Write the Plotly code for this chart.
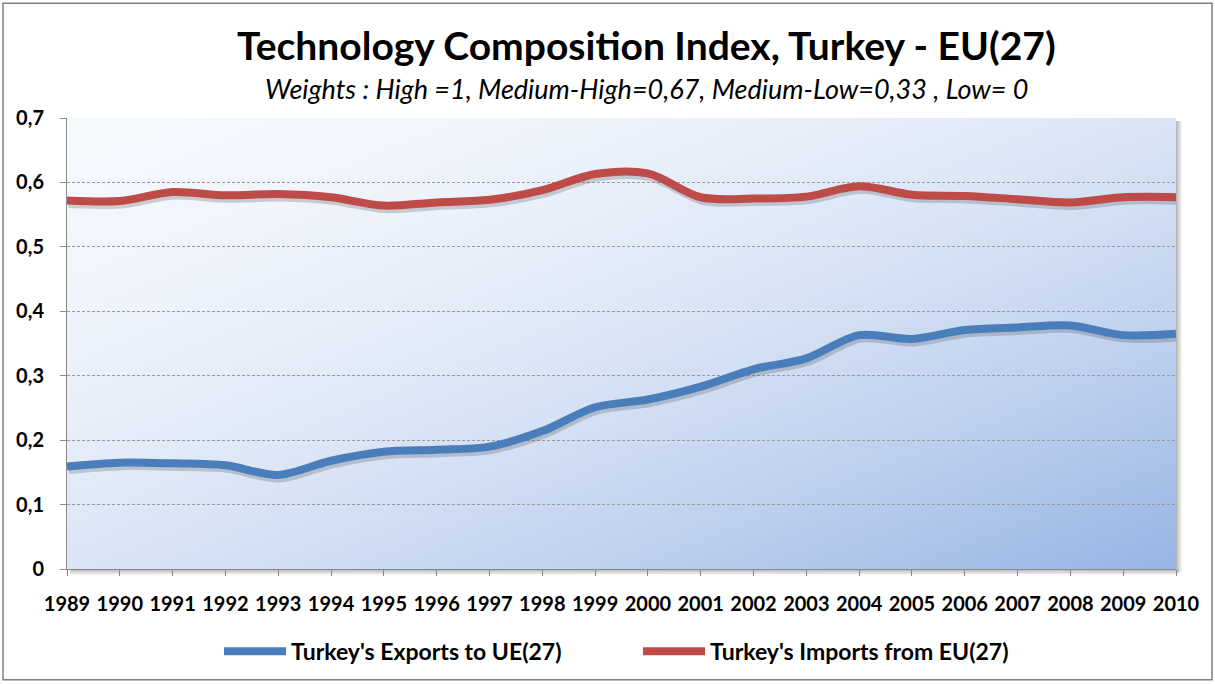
import base64
import struct
import zlib

import numpy as np
import plotly.graph_objects as go

# ---------------- data ----------------
year_labels = ["1989", "1990", "1991", "1992", "1993", "1994", "1995", "1996",
               "1997", "1998", "1999", "2000", "2001", "2002", "2003", "2004",
               "2005", "2006", "2007", "2008", "2009", "2010"]
exports_ue27 = [0.159, 0.165, 0.164, 0.161, 0.146, 0.168, 0.182, 0.185, 0.190,
                0.214, 0.251, 0.263, 0.283, 0.310, 0.327, 0.363, 0.357, 0.371,
                0.375, 0.378, 0.363, 0.365]
imports_eu27 = [0.572, 0.571, 0.585, 0.580, 0.582, 0.577, 0.564, 0.569, 0.573,
                0.588, 0.613, 0.614, 0.577, 0.575, 0.578, 0.594, 0.581, 0.579,
                0.574, 0.569, 0.577, 0.577]
y_tick_values = [0, 0.1, 0.2, 0.3, 0.4, 0.5, 0.6, 0.7]
y_tick_labels = ["0", "0,1", "0,2", "0,3", "0,4", "0,5", "0,6", "0,7"]

title_text = "Technology Composition Index, Turkey - EU(27)"
subtitle_text = "Weights : High =1, Medium-High=0,67, Medium-Low=0,33 , Low= 0"
name_exports = "Turkey's Exports to UE(27)"
name_imports = "Turkey's Imports from EU(27)"

years = [int(y) for y in year_labels]

# ---------------- layout geometry ----------------
W, H = 1215, 684
ML, MR, MT, MB = 67, 39, 118, 114
PW, PH = W - ML - MR, H - MT - MB
FONT = "Lato, 'Open Sans', sans-serif"

BLUE = "#4a7ebb"
RED = "#be4b48"


# ---------------- gradient background image (plot area + drop shadow) ----------------
def make_bg_png(pw, ph, sh=6):
    w, h = pw + sh, ph + sh
    xs = np.arange(w)[None, :] / (pw - 1)
    ys = np.arange(h)[:, None] / (ph - 1)
    t = np.clip((xs + ys) / 2.0, 0, 1) ** 1.8
    c0 = np.array([245, 248, 253], float)
    c1 = np.array([150, 180, 228], float)
    rgb = c0[None, None, :] + (c1 - c0)[None, None, :] * t[:, :, None]
    img = np.zeros((h, w, 4), float)
    img[:, :, :3] = rgb
    img[:ph, :pw, 3] = 255
    X = np.arange(w)[None, :].repeat(h, 0)
    Y = np.arange(h)[:, None].repeat(w, 1)
    right = (X >= pw) & (Y >= 3) & (Y < ph + 3)
    bottom = (Y >= ph) & (X >= 3) & (X < pw + 3)
    a_r = np.where(right, 110 * (1 - (X - pw) / sh), 0)
    a_b = np.where(bottom, 110 * (1 - (Y - ph) / sh), 0)
    a = np.maximum(a_r, a_b)
    sh_mask = a > 0
    img[sh_mask, 0] = 90
    img[sh_mask, 1] = 90
    img[sh_mask, 2] = 90
    img[sh_mask, 3] = a[sh_mask]
    arr = np.clip(np.round(img), 0, 255).astype(np.int16)
    sub = arr.copy()
    sub[:, 1:, :] = (arr[:, 1:, :] - arr[:, :-1, :]) % 256
    sub = sub.astype(np.uint8).reshape(h, w * 4)
    raw = np.hstack([np.ones((h, 1), np.uint8), sub]).tobytes()

    def chunk(tag, data):
        c = struct.pack(">I", len(data)) + tag + data
        return c + struct.pack(">I", zlib.crc32(tag + data) & 0xFFFFFFFF)

    png = b"\x89PNG\r\n\x1a\n"
    png += chunk(b"IHDR", struct.pack(">IIBBBBB", w, h, 8, 6, 0, 0, 0))
    png += chunk(b"IDAT", zlib.compress(raw, 9))
    png += chunk(b"IEND", b"")
    return "data:image/png;base64," + base64.b64encode(png).decode(), w, h


bg_src, bg_w, bg_h = make_bg_png(PW, PH)

# ---------------- figure ----------------
fig = go.Figure()

# invisible anchor trace so the base (tick/grid) axes are drawn
fig.add_trace(go.Scatter(
    x=years, y=exports_ue27, mode="lines", line=dict(width=0, color="rgba(0,0,0,0)"),
    showlegend=False, hoverinfo="skip"))

# line shadows (on an offset invisible axis pair)
for vals in (exports_ue27, imports_eu27):
    fig.add_trace(go.Scatter(
        x=years, y=vals, mode="lines", xaxis="x2", yaxis="y2",
        line=dict(color="rgba(40,40,40,0.2)", width=9, shape="spline", smoothing=0.9),
        showlegend=False, hoverinfo="skip"))

fig.add_trace(go.Scatter(
    x=years, y=exports_ue27, mode="lines", name=name_exports, xaxis="x3", yaxis="y3",
    line=dict(color=BLUE, width=8, shape="spline", smoothing=0.9)))
fig.add_trace(go.Scatter(
    x=years, y=imports_eu27, mode="lines", name=name_imports, xaxis="x3", yaxis="y3",
    line=dict(color=RED, width=8, shape="spline", smoothing=0.9)))

xr = [years[0], years[-1]]
yr = [0, 0.7]
dx = 1.5 * (xr[1] - xr[0]) / PW
dy = 3.0 * (yr[1] - yr[0]) / PH

fig.update_layout(
    width=W, height=H,
    margin=dict(l=ML, r=MR, t=MT, b=MB),
    paper_bgcolor="white",
    plot_bgcolor="rgba(0,0,0,0)",
    font=dict(family=FONT, color="black"),
    xaxis=dict(
        range=xr, tickmode="array", tickvals=years, ticktext=year_labels,
        tickangle=0, showgrid=False, zeroline=False,
        showline=True, linecolor="#8a8a8a", linewidth=1,
        ticks="outside", ticklen=6, tickcolor="#8a8a8a",
        ticklabelstandoff=11,
        tickfont=dict(family=FONT, size=20, color="black", weight="bold"),
    ),
    yaxis=dict(
        range=yr, tickmode="array", tickvals=y_tick_values, ticktext=y_tick_labels,
        showgrid=True, gridcolor="#9a9a9a", griddash="3px,2px", gridwidth=1,
        zeroline=False, showline=True, linecolor="#8a8a8a", linewidth=1,
        ticks="outside", ticklen=6, tickcolor="#8a8a8a",
        ticklabelstandoff=12,
        tickfont=dict(family=FONT, size=20, color="black", weight="bold"),
    ),
    xaxis2=dict(range=[xr[0] - dx, xr[1] - dx], overlaying="x", visible=False),
    yaxis2=dict(range=[yr[0] + dy, yr[1] + dy], overlaying="y", visible=False),
    xaxis3=dict(range=xr, overlaying="x", visible=False),
    yaxis3=dict(range=yr, overlaying="y", visible=False),
    legend=dict(
        orientation="h", x=(638 - ML) / PW, xanchor="center", y=-0.18, yanchor="middle",
        font=dict(family=FONT, size=23, color="black", weight="bold"),
        bgcolor="rgba(0,0,0,0)", itemwidth=62,
        entrywidth=342, entrywidthmode="pixels",
    ),
    showlegend=True,
    images=[dict(
        source=bg_src, xref="paper", yref="paper",
        x=0, y=1, xanchor="left", yanchor="top",
        sizex=bg_w / PW, sizey=bg_h / PH, sizing="stretch", layer="below")],
    annotations=[
        dict(text="<b>" + title_text + "</b>", xref="paper", yref="paper",
             x=(646 - ML) / PW, y=1 + (MT - 45) / PH, xanchor="center", yanchor="middle",
             showarrow=False, font=dict(family=FONT, size=39, color="black")),
        dict(text="<i>" + subtitle_text + "</i>", xref="paper", yref="paper",
             x=(646 - ML) / PW, y=1 + (MT - 88) / PH, xanchor="center", yanchor="middle",
             showarrow=False, font=dict(family=FONT, size=27, color="black")),
    ],
    shapes=[dict(type="rect", xref="paper", yref="paper",
                 x0=(3 - ML) / PW, x1=(W - 3 - ML) / PW,
                 y0=-(MB - 3) / PH, y1=1 + (MT - 3) / PH,
                 line=dict(color="#7f7f7f", width=1.5), fillcolor="rgba(0,0,0,0)",
                 layer="below")],
)

fig.write_html("out.html", config={"displayModeBar": False},
               post_script="document.body.style.margin='0';document.body.style.overflow='hidden';")
